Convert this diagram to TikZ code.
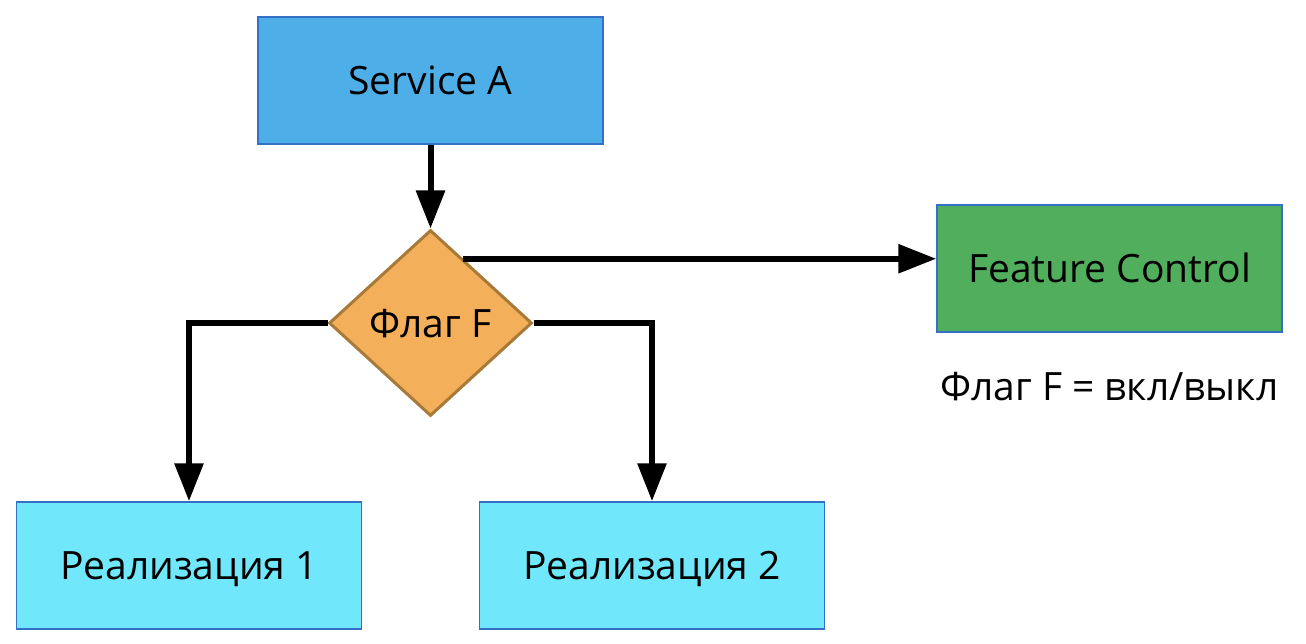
\documentclass[tikz,border=0pt]{standalone}
\usepackage{fontspec}
\setmainfont{Open Sans}
\usepackage{tikz}
\usetikzlibrary{arrows.meta,calc,positioning,shapes.geometric}
\definecolor{svcBlue}{RGB}{77,174,232}
\definecolor{boxEdge}{RGB}{52,112,196}
\definecolor{ctlGreen}{RGB}{80,174,92}
\definecolor{implCyan}{RGB}{112,231,250}
\definecolor{flagOrange}{RGB}{243,175,89}
\definecolor{flagEdge}{RGB}{168,122,58}
\tikzset{
  label text/.style={font=\fontsize{39}{44}\selectfont,text height=28pt,text depth=0pt},
  block/.style={label text,draw=boxEdge,line width=1.5pt,minimum width=345pt,minimum height=127pt,
    inner sep=0pt},
  flagbox/.style={label text,diamond,draw=flagEdge,fill=flagOrange,line width=3pt,aspect=1.09,
    minimum width=203pt,minimum height=186pt,inner sep=0pt},
  link/.style={line width=6pt,-{Triangle[length=38pt,width=28pt]}},
}

\begin{document}
\begin{tikzpicture}[x=1pt,y=-1pt]
  \useasboundingbox (0,0) rectangle (1306,644);
  \node[block,fill=svcBlue] (svc) at (430.5,80.5) {Service A};
  \node[flagbox] (flag) at (430.5,323) {Флаг F};
  \node[block,fill=ctlGreen] (ctl) at (1109.5,268.5) {Feature Control};
  \node[label text,inner sep=0pt] (note) at (1109.5,386) {Флаг F = вкл/выкл};
  \node[block,fill=implCyan] (impl1) at (189,565.5) {Реализация 1};
  \node[block,fill=implCyan] (impl2) at (652,565.5) {Реализация 2};
  \coordinate (tap) at ($(flag.north)!0.32!(flag.east)$);
  \draw[link] (svc.south) -- (flag.north);
  \draw[link] (tap) -- (tap -| ctl.west);
  \draw[link,line join=miter] (flag.west) -| (impl1.north);
  \draw[link,line join=miter] (flag.east) -| (impl2.north);
\end{tikzpicture}
\end{document}
